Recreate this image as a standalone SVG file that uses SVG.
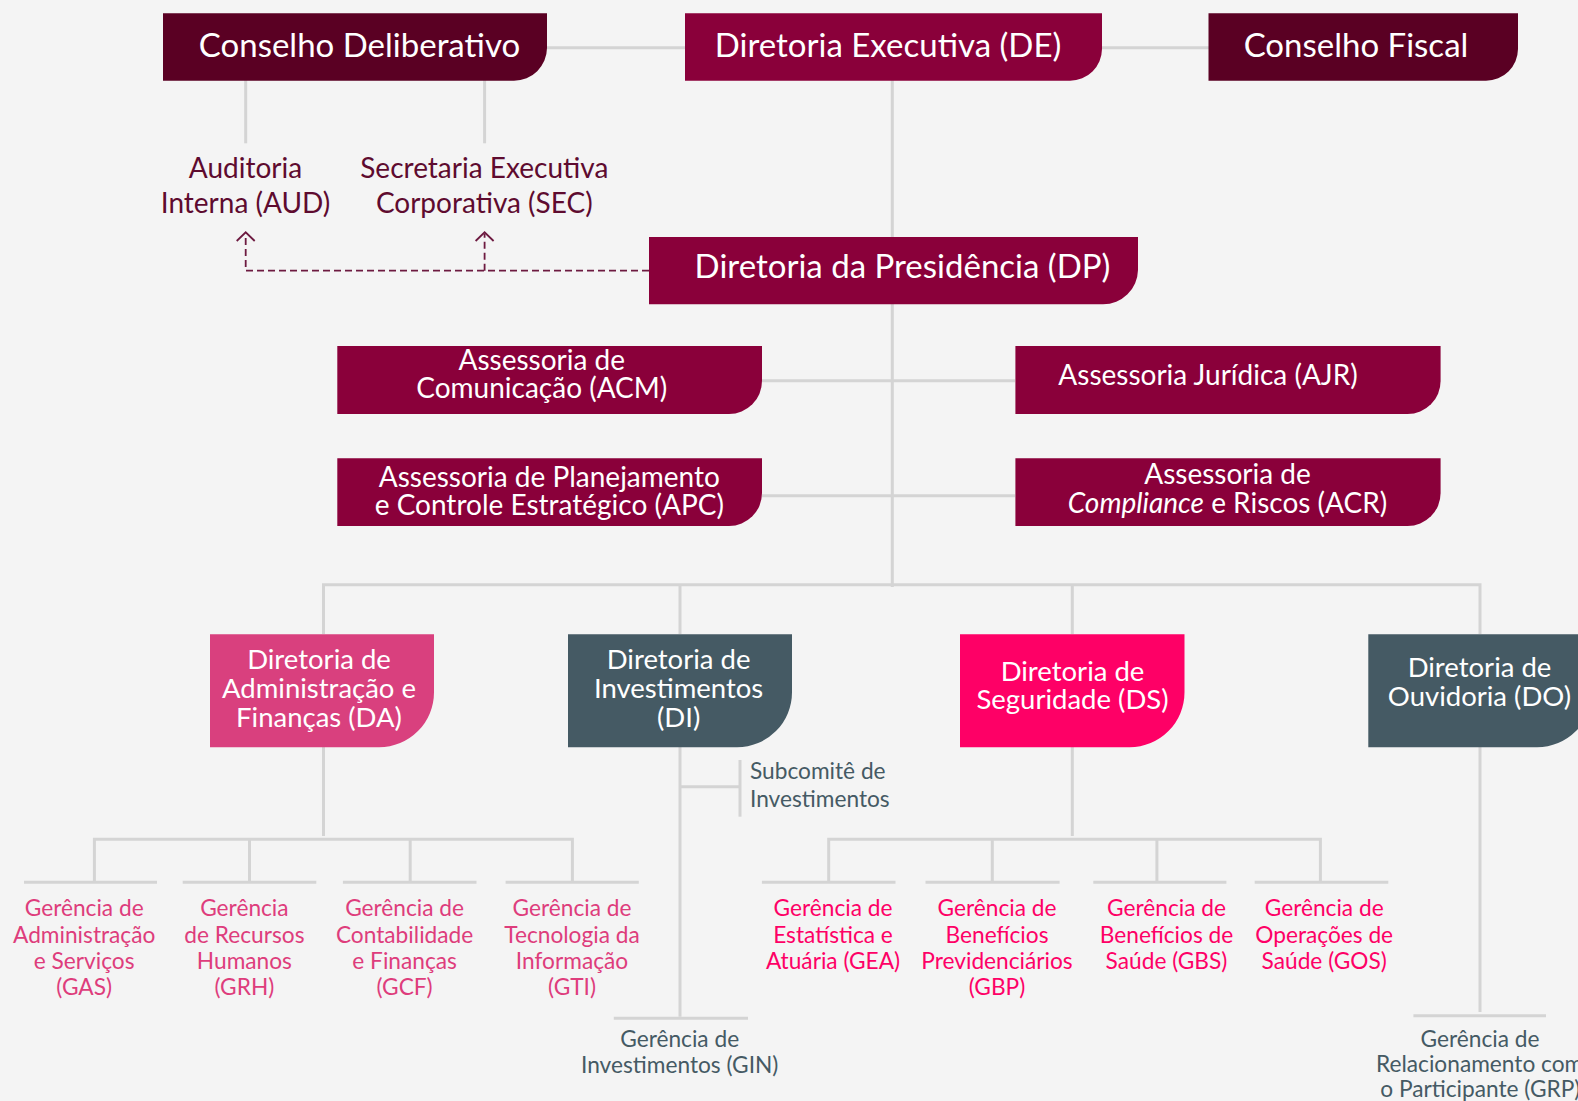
<svg xmlns="http://www.w3.org/2000/svg" width="1578" height="1101" viewBox="0 0 1578 1101">
<style>
text{font-family:Lato,"Liberation Sans",sans-serif;text-anchor:middle}
.w{fill:#ffffff}
.t1{font-size:33px}
.t2{font-size:28px}
.t4{font-size:27.5px}
.t3{font-size:28px;fill:#5e0b2f}
.t5{font-size:22.7px}
.pk{fill:#de3d7c}
.hp{fill:#fe0066}
.sl{fill:#455a64}
.ln{stroke:#d4d4d4;stroke-width:3;fill:none}
.ds{stroke:#6d1a40;stroke-width:1.8;fill:none;stroke-dasharray:7 4}
.ah{stroke:#6d1a40;stroke-width:1.8;fill:none}
.cd{fill:#5a0023}
.de{fill:#8a003a}
.da{fill:#d9407e}
.di{fill:#455a64}
.dsb{fill:#fe0066}
</style>
<rect x="0" y="0" width="1578" height="1101" fill="#f4f4f4"/>
<g id="connectors">
<line class="ln" x1="546" y1="47.7" x2="1209" y2="47.7"/>
<line class="ln" x1="245.7" y1="80" x2="245.7" y2="143.3"/>
<line class="ln" x1="484.6" y1="80" x2="484.6" y2="143.3"/>
<line class="ln" x1="892.3" y1="80" x2="892.3" y2="587"/>
<line class="ln" x1="762" y1="380.7" x2="1015" y2="380.7"/>
<line class="ln" x1="762" y1="495.7" x2="1015" y2="495.7"/>
<path class="ln" d="M323.5 634 V584.7 H1480 V634 M680 584.7 V634 M1072.3 584.7 V634"/>
<line class="ln" x1="323.5" y1="747" x2="323.5" y2="836"/>
<path class="ln" d="M94.4 882 V839.3 H572.4 V882 M249.5 839.3 V882 M410.2 839.3 V882"/>
<path class="ln" d="M24 882.3 H157 M182.7 882.3 H316.3 M342.9 882.3 H476.5 M505.6 882.3 H638.8"/>
<line class="ln" x1="680" y1="747" x2="680" y2="1016.7"/>
<line class="ln" x1="680" y1="786.7" x2="740" y2="786.7"/>
<line class="ln" x1="740" y1="760" x2="740" y2="816.7"/>
<line class="ln" x1="613.8" y1="1018.3" x2="748" y2="1018.3"/>
<line class="ln" x1="1072.3" y1="747" x2="1072.3" y2="836"/>
<path class="ln" d="M828.7 882 V839.3 H1320.4 V882 M992.3 839.3 V882 M1156.9 839.3 V882"/>
<path class="ln" d="M761.9 882.3 H895.5 M925.5 882.3 H1059.6 M1093.3 882.3 H1226.4 M1254.7 882.3 H1388.3"/>
<line class="ln" x1="1480" y1="747" x2="1480" y2="1012"/>
<line class="ln" x1="1413.4" y1="1015.7" x2="1546" y2="1015.7"/>
<path class="ds" d="M649 270.7 H245.7 V234 M484.6 270.7 V234"/>
<path class="ah" d="M236.7 241 L245.7 232.3 L254.7 241 M475.6 241 L484.6 232.3 L493.6 241"/>
</g>
<g id="CD"><path class="cd" d="M163 13.3 H547 V48 A33 33 0 0 1 514 80.7 H163 Z"/><text class="t1 w" x="359.5" y="57.3">Conselho Deliberativo</text></g>
<g id="DE"><path class="de" d="M685 13.3 H1102 V49 A32 32 0 0 1 1070 80.7 H685 Z"/><text class="t1 w" x="888" y="57.3">Diretoria Executiva (DE)</text></g>
<g id="CF"><path class="cd" d="M1208.5 13.3 H1518 V49 A32 32 0 0 1 1486 80.7 H1208.5 Z"/><text class="t1 w" x="1356" y="57.3">Conselho Fiscal</text></g>
<g id="AUD"><text class="t3" x="245.5" y="178.3">Auditoria</text><text class="t3" x="245.5" y="213.3">Interna (AUD)</text></g>
<g id="SEC"><text class="t3" x="484.3" y="178.3">Secretaria Executiva</text><text class="t3" x="484.3" y="213.3">Corporativa (SEC)</text></g>
<g id="DP"><path class="de" d="M649 237 H1138 V270 A35 35 0 0 1 1103 304.3 H649 Z"/><text class="t1 w" x="902.5" y="278.3">Diretoria da Presidência (DP)</text></g>
<g id="ACM"><path class="de" d="M337.3 346 H762 V381 A33 33 0 0 1 729 414 H337.3 Z"/><text class="t2 w" x="541.8" y="370">Assessoria de</text><text class="t2 w" x="541.8" y="398.3">Comunicação (ACM)</text></g>
<g id="AJR"><path class="de" d="M1015.4 346 H1440.6 V381 A33 33 0 0 1 1407.6 414 H1015.4 Z"/><text class="t2 w" x="1208" y="385">Assessoria Jurídica (AJR)</text></g>
<g id="APC"><path class="de" d="M337.3 458.3 H762 V493 A33 33 0 0 1 729 526 H337.3 Z"/><text class="t2 w" x="549.3" y="486.7">Assessoria de Planejamento</text><text class="t2 w" x="549.3" y="515">e Controle Estratégico (APC)</text></g>
<g id="ACR"><path class="de" d="M1015.4 458.3 H1440.6 V493 A33 33 0 0 1 1407.6 526 H1015.4 Z"/><text class="t2 w" x="1227.5" y="484">Assessoria de</text><text class="t2 w" x="1227.5" y="513.3"><tspan font-style="italic">Compliance</tspan> e Riscos (ACR)</text></g>
<g id="DA"><path class="da" d="M210 634.3 H434 V692 A55 55 0 0 1 379 747.3 H210 Z"/><text class="t4 w" x="319" y="669">Diretoria de</text><text class="t4 w" x="319" y="698.3">Administração e</text><text class="t4 w" x="319" y="726.7">Finanças (DA)</text></g>
<g id="DI"><path class="di" d="M568 634.3 H792 V692 A55 55 0 0 1 737 747.3 H568 Z"/><text class="t4 w" x="678.6" y="669">Diretoria de</text><text class="t4 w" x="678.6" y="698.3">Investimentos</text><text class="t4 w" x="678.6" y="726.7">(DI)</text></g>
<g id="DS"><path class="dsb" d="M960 634.3 H1184.5 V692 A55 55 0 0 1 1129.5 747.3 H960 Z"/><text class="t4 w" x="1072.5" y="680.7">Diretoria de</text><text class="t4 w" x="1072.5" y="709.3">Seguridade (DS)</text></g>
<g id="DO"><path class="di" d="M1368.3 634.3 H1592 V692 A55 55 0 0 1 1537 747.3 H1368.3 Z"/><text class="t4 w" x="1479.5" y="676.7">Diretoria de</text><text class="t4 w" x="1479.5" y="705.7">Ouvidoria (DO)</text></g>
<g id="SUB"><text class="t5 sl" x="750" y="779.3" style="text-anchor:start">Subcomitê de</text><text class="t5 sl" x="750" y="806.7" style="text-anchor:start">Investimentos</text></g>
<g id="GAS"><text class="t5 pk" x="84.2" y="916">Gerência de</text><text class="t5 pk" x="84.2" y="942.7">Administração</text><text class="t5 pk" x="84.2" y="969.3">e Serviços</text><text class="t5 pk" x="84.2" y="995">(GAS)</text></g>
<g id="GRH"><text class="t5 pk" x="244.4" y="916">Gerência</text><text class="t5 pk" x="244.4" y="942.7">de Recursos</text><text class="t5 pk" x="244.4" y="969.3">Humanos</text><text class="t5 pk" x="244.4" y="995">(GRH)</text></g>
<g id="GCF"><text class="t5 pk" x="404.6" y="916">Gerência de</text><text class="t5 pk" x="404.6" y="942.7">Contabilidade</text><text class="t5 pk" x="404.6" y="969.3">e Finanças</text><text class="t5 pk" x="404.6" y="995">(GCF)</text></g>
<g id="GTI"><text class="t5 pk" x="572" y="916">Gerência de</text><text class="t5 pk" x="572" y="942.7">Tecnologia da</text><text class="t5 pk" x="572" y="969.3">Informação</text><text class="t5 pk" x="572" y="995">(GTI)</text></g>
<g id="GIN"><text class="t5 sl" x="679.7" y="1046.7">Gerência de</text><text class="t5 sl" x="679.7" y="1073.3">Investimentos (GIN)</text></g>
<g id="GEA"><text class="t5 hp" x="833" y="916">Gerência de</text><text class="t5 hp" x="833" y="942.7">Estatística e</text><text class="t5 hp" x="833" y="969.3">Atuária (GEA)</text></g>
<g id="GBP"><text class="t5 hp" x="997" y="916">Gerência de</text><text class="t5 hp" x="997" y="942.7">Benefícios</text><text class="t5 hp" x="997" y="969.3">Previdenciários</text><text class="t5 hp" x="997" y="995">(GBP)</text></g>
<g id="GBS"><text class="t5 hp" x="1166.5" y="916">Gerência de</text><text class="t5 hp" x="1166.5" y="942.7">Benefícios de</text><text class="t5 hp" x="1166.5" y="969.3">Saúde (GBS)</text></g>
<g id="GOS"><text class="t5 hp" x="1324.2" y="916">Gerência de</text><text class="t5 hp" x="1324.2" y="942.7">Operações de</text><text class="t5 hp" x="1324.2" y="969.3">Saúde (GOS)</text></g>
<g id="GRP"><text class="t5 sl" x="1480" y="1046.7">Gerência de</text><text class="t5 sl" x="1376" y="1072" style="text-anchor:start">Relacionamento com</text><text class="t5 sl" x="1380.3" y="1097" style="text-anchor:start">o Participante (GRP)</text></g>
</svg>
